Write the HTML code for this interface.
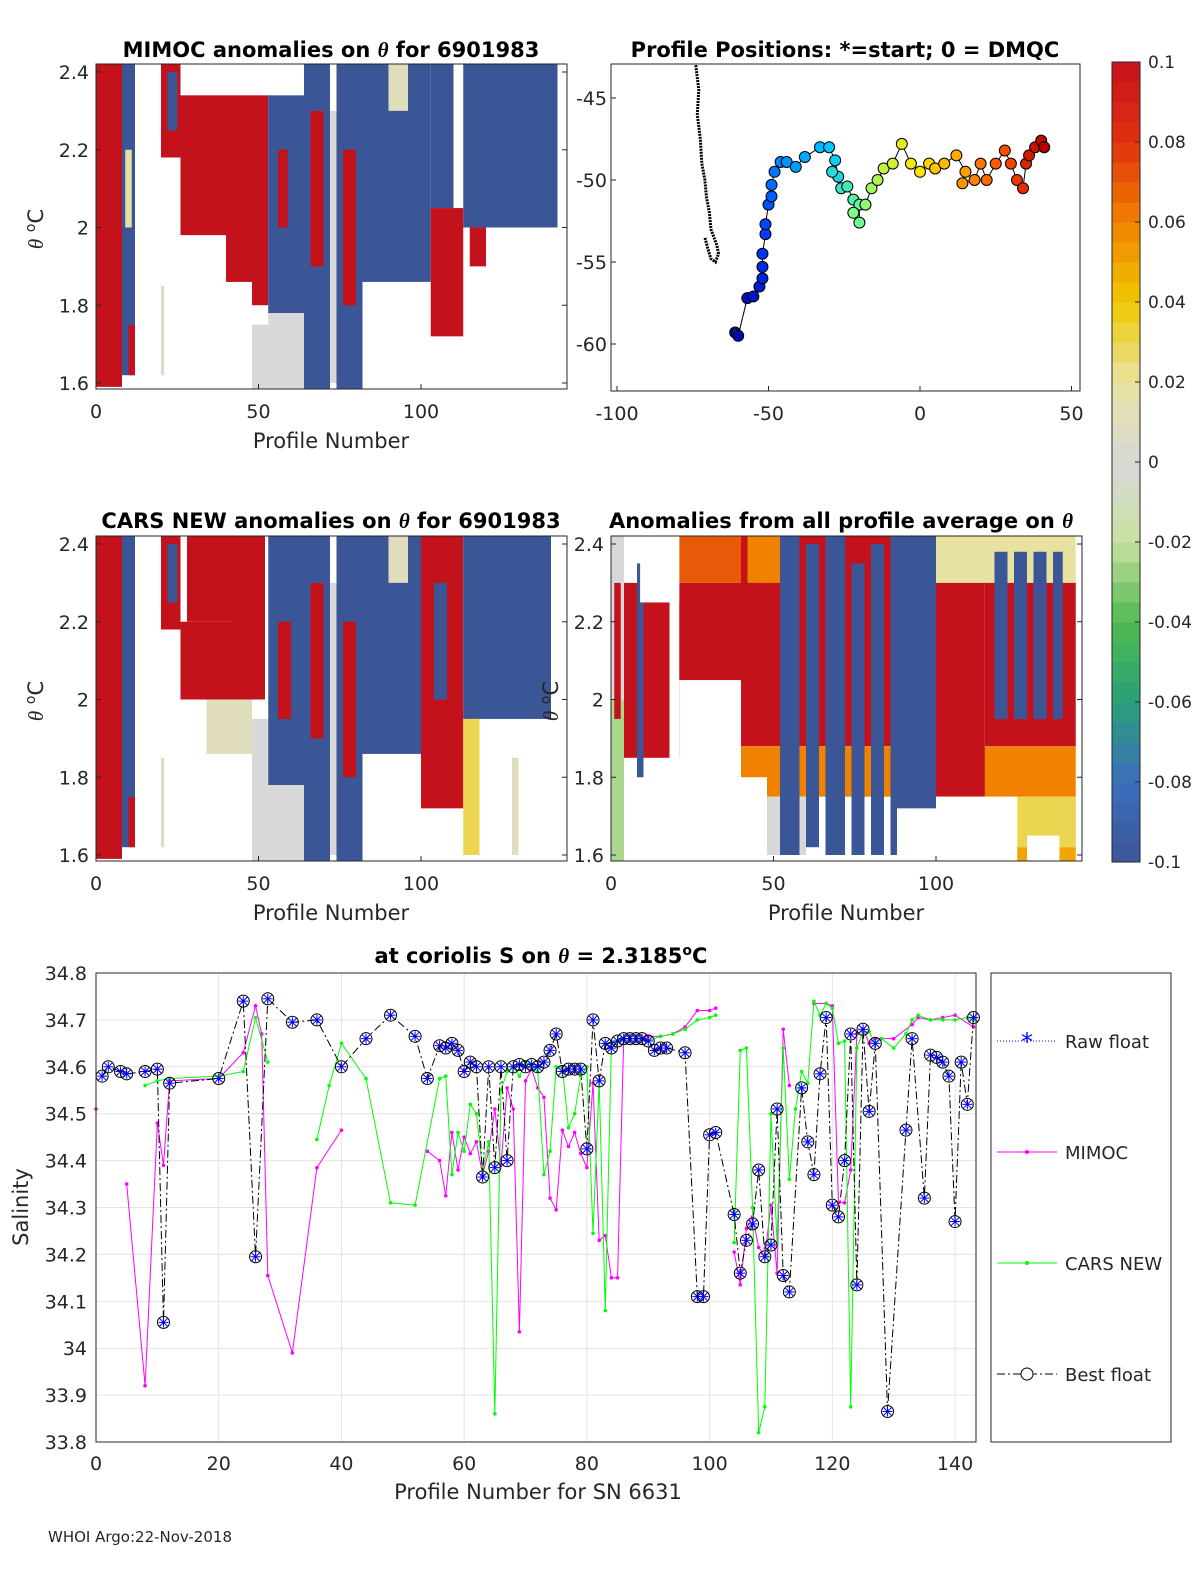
<!DOCTYPE html>
<html><head><meta charset="utf-8"><style>
body{margin:0;background:#fff;}
svg text{font-family:"DejaVu Sans","Liberation Sans",sans-serif;fill:#262626;}
.t{font-weight:bold;font-size:21px;fill:#000;}
.k{font-size:19px;}
.c{font-size:17px;}
</style></head><body>
<svg id="fig" width="1200" height="1575" viewBox="0 0 1200 1575" xmlns="http://www.w3.org/2000/svg">
<rect width="1200" height="1575" fill="#fff"/>
<g id="tl"></g>
<g id="map"></g>
<g id="cb"></g>
<g id="ml"></g>
<g id="mr"></g>
<g id="bot"></g>
<text class="t" x="331" y="57" text-anchor="middle">MIMOC anomalies on <tspan font-style="italic" font-family="Liberation Serif">θ</tspan>  for 6901983</text>
<text class="t" x="845" y="57" text-anchor="middle">Profile Positions: *=start; 0 = DMQC</text>
<text class="t" x="331" y="528" text-anchor="middle">CARS NEW anomalies on <tspan font-style="italic" font-family="Liberation Serif">θ</tspan> for 6901983</text>
<text class="t" x="841" y="528" text-anchor="middle">Anomalies from all profile average on <tspan font-style="italic" font-family="Liberation Serif">θ</tspan></text>
<text class="t" x="541" y="963" text-anchor="middle">at coriolis S on <tspan font-style="italic" font-family="Liberation Serif">θ</tspan> = 2.3185<tspan dy="-8" font-size="14">o</tspan><tspan dy="8">C</tspan></text>
<text x="48" y="1542" font-size="15">WHOI Argo:22-Nov-2018</text>
</svg>
<script>
// ---------- data ----------
// heatmap runs: [profileStart, profileEnd, thetaLow, thetaHigh, anomaly]
const mimocRuns=[[0,8,1.59,2.42,0.1],[8,12,1.62,2.42,-0.1],[9,11,2.0,2.2,0.02],[10,12,1.62,1.75,0.1],[20,21,1.62,1.85,0.005],[20,26,2.18,2.42,0.1],[22,25,2.25,2.4,-0.1],[26,48,1.98,2.34,0.1],[40,48,1.86,2.0,0.1],[30,38,2.0,2.12,0.1],[48,53,1.8,2.34,0.1],[48,53,1.58,1.75,0.0],[53,64,1.58,1.78,0.0],[53,64,1.78,2.34,-0.1],[56,59,2.0,2.2,0.1],[64,72,1.58,2.42,-0.1],[66,70,1.9,2.3,0.1],[72,75,1.6,2.3,0.0],[74,82,1.58,2.42,-0.1],[76,80,1.8,2.2,0.1],[82,103,1.86,2.42,-0.1],[90,96,2.3,2.42,0.01],[103,113,1.72,2.05,0.1],[103,110,2.05,2.42,-0.1],[113,142,2.0,2.42,-0.1],[115,120,1.9,2.0,0.1]];
const carsRuns=[[0,8,1.59,2.42,0.1],[8,12,1.62,2.42,-0.1],[10,12,1.62,1.75,0.1],[20,21,1.62,1.85,0.005],[20,26,2.18,2.42,0.1],[22,25,2.25,2.4,-0.1],[26,42,2.0,2.2,0.1],[28,42,2.2,2.42,0.1],[34,48,1.86,2.0,0.01],[42,52,2.0,2.42,0.1],[48,53,1.58,1.95,0.0],[53,64,1.58,1.78,0.0],[53,64,1.78,2.42,-0.1],[56,60,1.95,2.2,0.1],[64,72,1.58,2.42,-0.1],[66,70,1.9,2.3,0.1],[72,75,1.6,2.3,0.0],[74,82,1.58,2.42,-0.1],[76,80,1.8,2.2,0.1],[82,103,1.86,2.42,-0.1],[90,96,2.3,2.42,0.01],[100,113,1.72,2.42,0.1],[104,108,2.0,2.3,-0.1],[113,140,1.95,2.42,-0.1],[113,118,1.6,1.95,0.03],[128,130,1.6,1.85,0.01]];
const avgRuns=[[0,4,1.58,2.0,-0.025],[0,4,2.0,2.42,0.0],[1,3,1.95,2.3,0.1],[4,18,1.85,2.3,0.1],[8,10,1.8,2.35,-0.1],[9,21,2.25,2.42,-0.2],[21,40,1.85,2.3,0.1],[21,40,2.3,2.42,0.07],[40,100,1.88,2.42,0.1],[40,143,1.75,1.88,0.06],[42,52,2.3,2.42,0.06],[48,60,1.6,1.75,0.0],[52,58,1.6,2.42,-0.1],[60,64,1.62,2.4,-0.1],[66,72,1.6,2.42,-0.1],[74,78,1.6,2.35,-0.1],[80,84,1.6,2.4,-0.1],[86,100,1.6,2.42,-0.1],[100,143,2.3,2.42,0.02],[100,115,1.75,2.3,0.1],[115,143,1.88,2.3,0.1],[118,122,1.95,2.38,-0.1],[124,128,1.95,2.38,-0.1],[130,134,1.95,2.38,-0.1],[136,139,1.95,2.38,-0.1],[100,143,1.62,1.75,0.03],[110,143,1.58,1.62,0.05]];
// white (empty) regions: [p0,p1,tLow,tHigh]
const avgEmpty=[[9,21,2.25,2.42],[21,40,1.58,2.05],[40,48,1.58,1.8],[88,100,1.58,1.72],[100,125,1.58,1.75],[128,138,1.58,1.65]];
const mimocEmpty=[[12,20,1.58,2.42],[21,26,1.58,2.18],[26,40,1.58,1.98]];
// map
const lon=[-61,-60,-57,-55,-53,-52,-52,-52,-51,-51,-50,-49,-49,-48,-46,-44,-41,-38,-33,-30,-28,-27,-29,-26,-24,-22,-20,-20,-22,-18,-16,-14,-12,-9,-6,-3,0,3,5,8,12,15,14,18,20,22,25,28,30,32,34,35,36,38,40,41];
const lat=[-59.3,-59.5,-57.2,-57.1,-56.5,-56,-55.3,-54.5,-53.3,-52.7,-51.5,-51,-50.3,-49.5,-48.9,-48.9,-49.2,-48.6,-48,-48,-48.8,-49.8,-49.5,-50.5,-50.4,-51.2,-51.5,-52.6,-52,-51.5,-50.5,-50,-49.3,-49,-47.8,-49,-49.5,-49,-49.3,-49,-48.5,-49.5,-50.2,-50,-49,-50,-49,-48.2,-49,-50,-50.5,-49,-48.5,-48,-47.6,-48];
const coastLon=[-74,-73,-73.5,-72.5,-72,-71,-70.5,-69.5,-69,-68,-67,-66.5,-67.5,-69,-70,-71];
const coastLat=[-43,-44.5,-46,-47.5,-49,-50,-51,-52,-53,-53.5,-54,-54.5,-55,-54.8,-54.2,-53.5];
// salinity chart
const bestP=[1,2,4,5,8,10,11,12,20,24,26,28,32,36,40,44,48,52,54,56,57,58,59,60,61,62,63,64,65,66,67,68,69,70,71,72,73,74,75,76,77,78,79,80,81,82,83,84,85,86,87,88,89,90,91,92,93,96,98,99,100,101,104,105,106,107,108,109,110,111,112,113,115,116,117,118,119,120,121,122,123,124,125,126,127,129,132,133,135,136,137,138,139,140,141,142,143];
const bestS=[34.58,34.6,34.59,34.585,34.59,34.595,34.055,34.565,34.575,34.74,34.195,34.745,34.695,34.7,34.6,34.66,34.71,34.665,34.575,34.645,34.64,34.65,34.635,34.59,34.61,34.6,34.365,34.6,34.385,34.6,34.4,34.6,34.605,34.6,34.605,34.6,34.61,34.635,34.67,34.59,34.595,34.595,34.595,34.425,34.7,34.57,34.65,34.64,34.655,34.66,34.66,34.66,34.66,34.655,34.635,34.64,34.64,34.63,34.11,34.11,34.455,34.46,34.285,34.16,34.23,34.265,34.38,34.195,34.22,34.51,34.155,34.12,34.555,34.44,34.37,34.585,34.705,34.305,34.28,34.4,34.67,34.135,34.68,34.505,34.65,33.865,34.465,34.66,34.32,34.625,34.62,34.61,34.58,34.27,34.61,34.52,34.705];
const mimocP=[0,null,5,8,10,11,12,20,24,26,27,28,32,36,40,null,54,56,57,58,59,60,61,62,63,64,65,66,67,68,69,70,71,72,73,74,75,76,77,78,79,80,81,82,83,84,85,86,88,90,92,94,96,98,100,101,null,104,105,106,107,108,109,110,111,112,113,null,117,119,120,121,122,123,124,125,126,127,130,133,134,136,138,140,143];
const mimocS=[34.51,null,34.35,33.92,34.48,34.39,34.57,34.575,34.63,34.73,34.67,34.155,33.99,34.385,34.465,null,34.42,34.4,34.325,34.46,34.38,34.45,34.415,34.44,34.37,34.42,34.51,34.39,34.555,34.51,34.035,34.57,34.595,34.555,34.535,34.32,34.295,34.465,34.43,34.46,34.415,34.385,34.565,34.23,34.24,34.15,34.15,34.66,34.66,34.665,34.665,34.67,34.685,34.72,34.72,34.725,null,34.205,34.135,34.255,34.28,34.215,34.195,34.305,34.16,34.68,34.56,null,34.735,34.735,34.73,34.31,34.31,34.38,34.67,34.68,34.65,34.66,34.66,34.69,34.705,34.7,34.705,34.71,34.685];
const carsP=[8,10,12,20,24,26,28,null,36,38,40,44,48,52,56,57,58,59,60,61,62,63,64,65,66,67,68,69,70,71,72,73,74,75,76,77,78,79,80,81,82,83,84,85,86,88,90,92,94,96,98,100,101,null,104,105,106,107,108,109,110,111,112,113,114,115,116,117,118,119,120,121,122,123,124,125,126,127,128,130,132,133,134,136,138,140,142,143];
const carsS=[34.56,34.57,34.575,34.58,34.59,34.705,34.61,null,34.445,34.56,34.65,34.575,34.31,34.305,34.575,34.58,34.37,34.46,34.42,34.52,34.5,34.38,34.44,33.86,34.55,34.59,34.6,34.58,34.61,34.6,34.59,34.37,34.42,34.6,34.6,34.47,34.5,34.58,34.6,34.245,34.57,34.08,34.65,34.655,34.66,34.66,34.655,34.665,34.67,34.68,34.7,34.705,34.71,null,34.225,34.635,34.64,34.3,33.82,33.875,34.5,34.225,34.64,34.36,34.51,34.59,34.565,34.74,34.71,34.735,34.725,34.65,34.655,33.875,34.64,34.675,34.675,34.65,34.66,34.64,34.67,34.7,34.71,34.7,34.7,34.7,34.705,34.7];
const yTicks=[34.8,34.7,34.6,34.5,34.4,34.3,34.2,34.1,34,33.9,33.8];
const yTickLabels=["34.8","34.7","34.6","34.5","34.4","34.3","34.2","34.1","34","33.9","33.8"];
const xTicks=[0,20,40,60,80,100,120,140];
const thetaTicks=[2.4,2.2,2.0,1.8,1.6];
const thetaLabels=["2.4","2.2","2","1.8","1.6"];
const cbTicks=[0.1,0.08,0.06,0.04,0.02,0,-0.02,-0.04,-0.06,-0.08,-0.1];
const cbLabels=["0.1","0.08","0.06","0.04","0.02","0","-0.02","-0.04","-0.06","-0.08","-0.1"];

// ---------- helpers ----------
const NS="http://www.w3.org/2000/svg";
function mk(parent,tag,attrs,text){const e=document.createElementNS(NS,tag);for(const k in attrs)e.setAttribute(k,attrs[k]);if(text!==undefined)e.textContent=text;parent.appendChild(e);return e;}
const stops=[[-0.1,[59,86,150]],[-0.08,[60,110,190]],[-0.06,[40,160,120]],[-0.04,[80,185,80]],[-0.02,[200,225,160]],[0,[216,216,216]],[0.02,[232,226,160]],[0.04,[240,200,0]],[0.06,[240,130,0]],[0.08,[224,50,16]],[0.1,[196,18,28]]];
function cmap(v){if(v<-0.1)v=-0.1;if(v>0.1)v=0.1;for(let i=0;i<stops.length-1;i++){const a=stops[i],b=stops[i+1];if(v<=b[0]){const f=(v-a[0])/(b[0]-a[0]);const c=a[1].map((x,j)=>Math.round(x+(b[1][j]-x)*f));return `rgb(${c})`;}}return "rgb(196,18,28)";}
const jetStops=[[0,[0,0,170]],[0.15,[0,60,255]],[0.35,[0,200,255]],[0.5,[120,255,140]],[0.65,[255,230,0]],[0.85,[255,80,0]],[1,[180,0,0]]];
function jet(f){for(let i=0;i<jetStops.length-1;i++){const a=jetStops[i],b=jetStops[i+1];if(f<=b[0]){const t=(f-a[0])/(b[0]-a[0]);return `rgb(${a[1].map((x,j)=>Math.round(x+(b[1][j]-x)*t))})`;}}return "rgb(180,0,0)";}

function heat(gid,x0,y0,runs,empty,name){
  const g=document.getElementById(gid);
  const px=p=>x0+p*3.25, py=t=>y0+8+(2.4-t)*388.75;
  const top=y0, bot=y0+325, right=x0+471;
  const clip=mk(g,"clipPath",{id:"c"+gid});mk(clip,"rect",{x:x0,y:top,width:471,height:325});
  const cg=mk(g,"g",{"clip-path":`url(#c${gid})`});
  runs.forEach(r=>{const e=mk(cg,"rect",{x:px(r[0]),y:py(r[3]),width:px(r[1])-px(r[0]),height:py(r[2])-py(r[3]),fill:r[4]<-0.15?"#fff":cmap(r[4])});
    
    });
  (empty||[]).forEach(r=>{const e=mk(cg,"rect",{x:px(r[0]),y:py(r[3]),width:px(r[1])-px(r[0]),height:py(r[2])-py(r[3]),fill:"#fff"});
    
    });
  const ax=mk(g,"rect",{x:x0,y:top,width:471,height:325,fill:"none",stroke:"#262626","stroke-width":1});
  
  
  thetaTicks.forEach((t,i)=>{mk(g,"line",{x1:x0,x2:x0+5,y1:py(t),y2:py(t),stroke:"#262626"});mk(g,"line",{x1:right,x2:right-5,y1:py(t),y2:py(t),stroke:"#262626"});
    const l=mk(g,"text",{x:x0-7,y:py(t)+7,"text-anchor":"end",class:"k"},thetaLabels[i]);
    
    });
  [0,50,100].forEach(p=>{mk(g,"line",{x1:px(p),x2:px(p),y1:bot,y2:bot-5,stroke:"#262626"});
    const l=mk(g,"text",{x:px(p),y:bot+29,"text-anchor":"middle",class:"k"},String(p));
    
    });
  const xl=mk(g,"text",{x:x0+235,y:bot+59,"text-anchor":"middle","font-size":"21"},"Profile Number");
  
  
  const yl=mk(g,"text",{transform:`translate(${x0-53},${top+165}) rotate(-90)`,"text-anchor":"middle","font-size":"21"});
  yl.innerHTML='<tspan font-style="italic" font-family="Liberation Serif">θ</tspan> <tspan dy="-8" font-size="14">o</tspan><tspan dy="8">C</tspan>';
  
  
}
heat("tl",96,64,mimocRuns,mimocEmpty,"mimoc");
heat("ml",96,536,carsRuns,mimocEmpty.slice(0,2),"cars");
heat("mr",611,536,avgRuns,avgEmpty,"average");

// ---------- map ----------
(function(){
  const g=document.getElementById("map");
  const lx=l=>920+l*3.03, ly=a=>180-(a+50)*16.4;
  const ax=mk(g,"rect",{x:611,y:64,width:469,height:327,fill:"none",stroke:"#262626"});
  
  
  const cst=mk(g,"polyline",{points:coastLon.map((l,i)=>lx(l)+","+ly(coastLat[i])).join(" "),fill:"none",stroke:"#000","stroke-width":3,"stroke-dasharray":"2 1"});
  
  
  mk(g,"polyline",{points:lon.map((l,i)=>lx(l)+","+ly(lat[i])).join(" "),fill:"none",stroke:"#000","stroke-width":1});
  lon.forEach((l,i)=>{const f=i/(lon.length-1);const c=mk(g,"circle",{cx:lx(l),cy:ly(lat[i]),r:5.5,fill:jet(f),stroke:"#000","stroke-width":1});
    
    });
  mk(g,"text",{x:lx(lon[0]),y:ly(lat[0])+6,"text-anchor":"middle","font-size":"16",fill:"#fff"},"*");
  [-100,-50,0,50].forEach(v=>{mk(g,"line",{x1:lx(v),x2:lx(v),y1:391,y2:386,stroke:"#262626"});
    const t=mk(g,"text",{x:lx(v),y:420,"text-anchor":"middle",class:"k"},String(v));
    
    });
  [-45,-50,-55,-60].forEach(v=>{mk(g,"line",{x1:611,x2:616,y1:ly(v),y2:ly(v),stroke:"#262626"});
    const t=mk(g,"text",{x:607,y:ly(v)+7,"text-anchor":"end",class:"k"},String(v));
    
    });
})();

// ---------- colorbar ----------
(function(){
  const g=document.getElementById("cb");
  const cy=v=>462-v*4000;
  for(let i=0;i<40;i++){const v0=-0.1+i*0.005;mk(g,"rect",{x:1112,y:cy(v0+0.005),width:28,height:20.5,fill:cmap(v0+0.0025)});}
  const b=mk(g,"rect",{x:1112,y:62,width:28,height:800,fill:"none",stroke:"#262626"});
  
  
  cbTicks.forEach((v,i)=>{mk(g,"line",{x1:1135,x2:1140,y1:cy(v),y2:cy(v),stroke:"#262626"});
    const t=mk(g,"text",{x:1148,y:cy(v)+6,class:"c"},cbLabels[i]);
    
    });
})();

// ---------- salinity chart ----------
(function(){
  const g=document.getElementById("bot");
  const bx=p=>96+p*6.136, by=s=>973+(34.8-s)*469;
  yTicks.forEach((v,i)=>{mk(g,"line",{x1:96,x2:976,y1:by(v),y2:by(v),stroke:"#e3e3e3"});
    const t=mk(g,"text",{x:87,y:by(v)+7,"text-anchor":"end",class:"k"},yTickLabels[i]);
    
    });
  xTicks.forEach(v=>{mk(g,"line",{x1:bx(v),x2:bx(v),y1:973,y2:1442,stroke:"#e3e3e3"});
    const t=mk(g,"text",{x:bx(v),y:1470,"text-anchor":"middle",class:"k"},String(v));
    
    });
  function path(P,S){let d="",pen=false;P.forEach((p,i)=>{if(p===null){pen=false;return;}d+=(pen?"L":"M")+bx(p)+" "+by(S[i])+" ";pen=true;});return d;}
  const mm=mk(g,"path",{d:path(mimocP,mimocS),fill:"none",stroke:"#ff00ff","stroke-width":1});
  
  
  mimocP.forEach((p,i)=>{if(p!==null)mk(g,"circle",{cx:bx(p),cy:by(mimocS[i]),r:1.8,fill:"#ff00ff"});});
  const cl=mk(g,"path",{d:path(carsP,carsS),fill:"none",stroke:"#00ff00","stroke-width":1});
  
  
  carsP.forEach((p,i)=>{if(p!==null)mk(g,"circle",{cx:bx(p),cy:by(carsS[i]),r:1.8,fill:"#00ff00"});});
  const bl=mk(g,"path",{d:path(bestP,bestS),fill:"none",stroke:"#000","stroke-width":1,"stroke-dasharray":"8 3 2 3"});
  
  
  bestP.forEach((p,i)=>{const x=bx(p),y=by(bestS[i]);
    mk(g,"line",{x1:x-5,x2:x+5,y1:y,y2:y,stroke:"#0000ff"});mk(g,"line",{x1:x,x2:x,y1:y-5,y2:y+5,stroke:"#0000ff"});
    mk(g,"line",{x1:x-4,x2:x+4,y1:y-4,y2:y+4,stroke:"#0000ff"});mk(g,"line",{x1:x-4,x2:x+4,y1:y+4,y2:y-4,stroke:"#0000ff"});
    const c=mk(g,"circle",{cx:x,cy:y,r:6,fill:"none",stroke:"#000"});
    
    });
  const ax=mk(g,"rect",{x:96,y:973,width:880,height:469,fill:"none",stroke:"#262626"});
  
  
  const xl=mk(g,"text",{x:538,y:1499,"text-anchor":"middle","font-size":"21"},"Profile Number for SN 6631");
  
  
  const yl=mk(g,"text",{transform:"translate(28,1207) rotate(-90)","text-anchor":"middle","font-size":"21"},"Salinity");
  
  
  const lb=mk(g,"rect",{x:991,y:973,width:180,height:469,fill:"#fff",stroke:"#262626"});
  
  
  const ent=[["Raw float",1041,"#0000ff","1 2"],["MIMOC",1152,"#ff00ff",""],["CARS NEW",1263,"#00ff00",""],["Best float",1374,"#000","8 3 2 3"]];
  ent.forEach(e=>{mk(g,"line",{x1:997,x2:1057,y1:e[1],y2:e[1],stroke:e[2],"stroke-dasharray":e[3]});
    if(e[0]==="Raw float"){mk(g,"text",{x:1027,y:e[1]+9,"text-anchor":"middle","font-size":"24",style:"fill:#0000ff"},"*");}
    else if(e[0]==="Best float"){mk(g,"circle",{cx:1027,cy:e[1],r:6,fill:"#fff",stroke:"#000"});}
    else mk(g,"circle",{cx:1027,cy:e[1],r:2,fill:e[2]});
    const t=mk(g,"text",{x:1065,y:e[1]+7,"font-size":"18"},e[0]);
    
    });
})();
</script>
</body></html>
